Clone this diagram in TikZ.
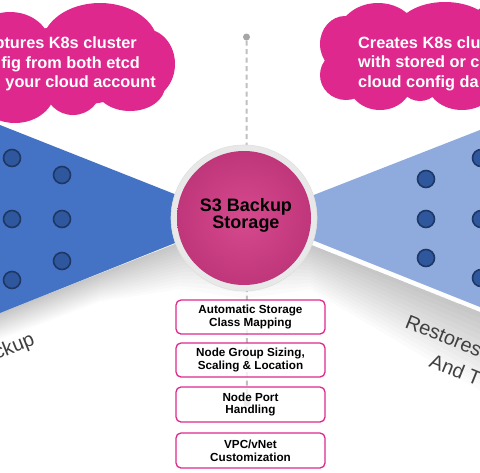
\documentclass[tikz,border=0pt]{standalone}
\usepackage{fontspec}
\setmainfont{Liberation Sans}
\definecolor{cloudpink}{RGB}{222,40,142}
\definecolor{lblue}{RGB}{68,114,196}
\definecolor{rblue}{RGB}{143,170,220}
\definecolor{dotfill}{RGB}{47,87,158}
\definecolor{dotline}{RGB}{30,55,100}
\definecolor{ringgray}{RGB}{232,232,232}
\definecolor{pinkin}{RGB}{214,74,142}
\definecolor{pinkout}{RGB}{192,54,122}
\definecolor{labelgray}{RGB}{64,64,64}
\definecolor{dashgray}{RGB}{192,192,192}
\definecolor{pingray}{RGB}{166,166,166}
\begin{document}
\begin{tikzpicture}[x=1pt,y=-1pt,
  dotnode/.style={circle,fill=dotfill,draw=dotline,line width=1.6pt,minimum size=17pt,inner sep=0pt},
  pinnode/.style={circle,fill=pingray,minimum size=7pt,inner sep=0pt},
  featbox/.style={draw=cloudpink,line width=1.3pt,rounded corners=5pt,fill=white,fill opacity=0.78,text opacity=1,minimum width=149pt,align=center,font=\fontsize{11.7}{12.7}\selectfont\bfseries,inner sep=0pt},
  cloudtext/.style={text=white,font=\fontsize{16.3}{19.5}\selectfont\bfseries,inner sep=0pt},
  sidelabel/.style={text=labelgray,font=\fontsize{20}{24}\selectfont,inner sep=0pt},
]
\useasboundingbox (0,0) rectangle (480,472);
\clip (0,0) rectangle (480,472);
\fill[white] (0,0) rectangle (480,472);

% soft floor shadow under the two cones
\foreach \t in {0.07,0.14,...,1.0}{
  \fill[black,opacity=0.016] (0,313) -- (100,273.5) -- (180,242) -- (244,218) -- (310,244.4) -- (480,312)
    -- (480,{312+80*\t}) -- (310,{244.4+46*\t}) -- (244,{218+82*\t}) -- (180,{242+48*\t}) -- (100,{273.5+28.5*\t}) -- (0,{313+27*\t}) -- cycle;
}

% cones
\fill[lblue] (0,125) -- (230,216) -- (230,221) -- (0,313) -- cycle;
\fill[rblue] (480,130) -- (260,216) -- (260,219) -- (480,307) -- cycle;

% dots
\node[dotnode] (l1) at (12,158) {};
\node[dotnode] (l2) at (12,219) {};
\node[dotnode] (l3) at (12,280) {};
\node[dotnode] (l4) at (62,175) {};
\node[dotnode] (l5) at (62,219) {};
\node[dotnode] (l6) at (62,261) {};
\node[dotnode] (r1) at (426,179) {};
\node[dotnode] (r2) at (426,219) {};
\node[dotnode] (r3) at (426,258) {};
\node[dotnode] (r4) at (481,158) {};
\node[dotnode] (r5) at (481,219) {};
\node[dotnode] (r6) at (481,278) {};

% clouds
\fill[cloudpink]
  (100,45) ellipse [x radius=58,y radius=42]
  (10,45) ellipse [x radius=40,y radius=33]
  (145,64) ellipse [x radius=30,y radius=35]
  (130,86) ellipse [x radius=35,y radius=25]
  (73,88) ellipse [x radius=28,y radius=27]
  (15,90) ellipse [x radius=40,y radius=33]
  (75,65) ellipse [x radius=75,y radius=40];
\fill[cloudpink]
  (345,44) ellipse [x radius=25,y radius=28]
  (346,75) ellipse [x radius=26,y radius=25]
  (378,36) ellipse [x radius=40,y radius=33]
  (445,33) ellipse [x radius=50,y radius=31]
  (380,82) ellipse [x radius=32,y radius=28]
  (420,78) ellipse [x radius=22,y radius=23]
  (462,82) ellipse [x radius=35,y radius=28]
  (505,50) ellipse [x radius=45,y radius=50]
  (420,55) ellipse [x radius=85,y radius=35];
\node[cloudtext,anchor=base east] (lc1) at (137,48.5) {ptures K8s cluster};
\node[cloudtext,anchor=base east] (lc2) at (140,68) {fig from both etcd};
\node[cloudtext,anchor=base east] (lc3) at (156,87) {d your cloud account};
\node[cloudtext,anchor=base west] (rc1) at (358,48) {Creates K8s clu};
\node[cloudtext,anchor=base west] (rc2) at (358,67.5) {with stored or c};
\node[cloudtext,anchor=base west] (rc3) at (358,87) {cloud config da};

% pins and dashed line
\node[pinnode] (topdot) at (246.5,37) {};
\node[pinnode] (botdot) at (247,403) {};
\draw[dashgray,line width=2pt,dash pattern=on 5pt off 3.5pt] (topdot) -- (botdot);

% feature boxes
\node[featbox,minimum height=34pt] (f1) at (250.5,317) {Automatic Storage\\Class Mapping};
\node[featbox,minimum height=34pt] (f2) at (250.5,360) {Node Group Sizing,\\Scaling \& Location};
\node[featbox,minimum height=35pt] (f3) at (250.5,404.5) {Node Port\\Handling};
\node[featbox,minimum height=35pt] (f4) at (250.5,450.5) {VPC/vNet\\Customization};

% hub
\node[circle,fill=ringgray,draw=black!12,line width=0.6pt,minimum size=146pt,inner sep=0pt] (ring) at (244,218) {};
\node[circle,inner color=pinkin,outer color=pinkout,minimum size=134pt,inner sep=0pt] (hub) at (244,218) {};
\node[align=center,inner sep=0pt,font=\fontsize{18}{16.7}\selectfont\bfseries] (hubtext) at (246,215.5) {S3 Backup\\Storage};

% side labels
\node[sidelabel,rotate=22,anchor=base east] (llabel) at (36,344) {ckup};
\node[sidelabel,rotate=-22,anchor=base west] (rlabel1) at (404,327) {Restores};
\node[sidelabel,rotate=-22,anchor=base west] (rlabel2) at (428,366) {And T};
\end{tikzpicture}
\end{document}
